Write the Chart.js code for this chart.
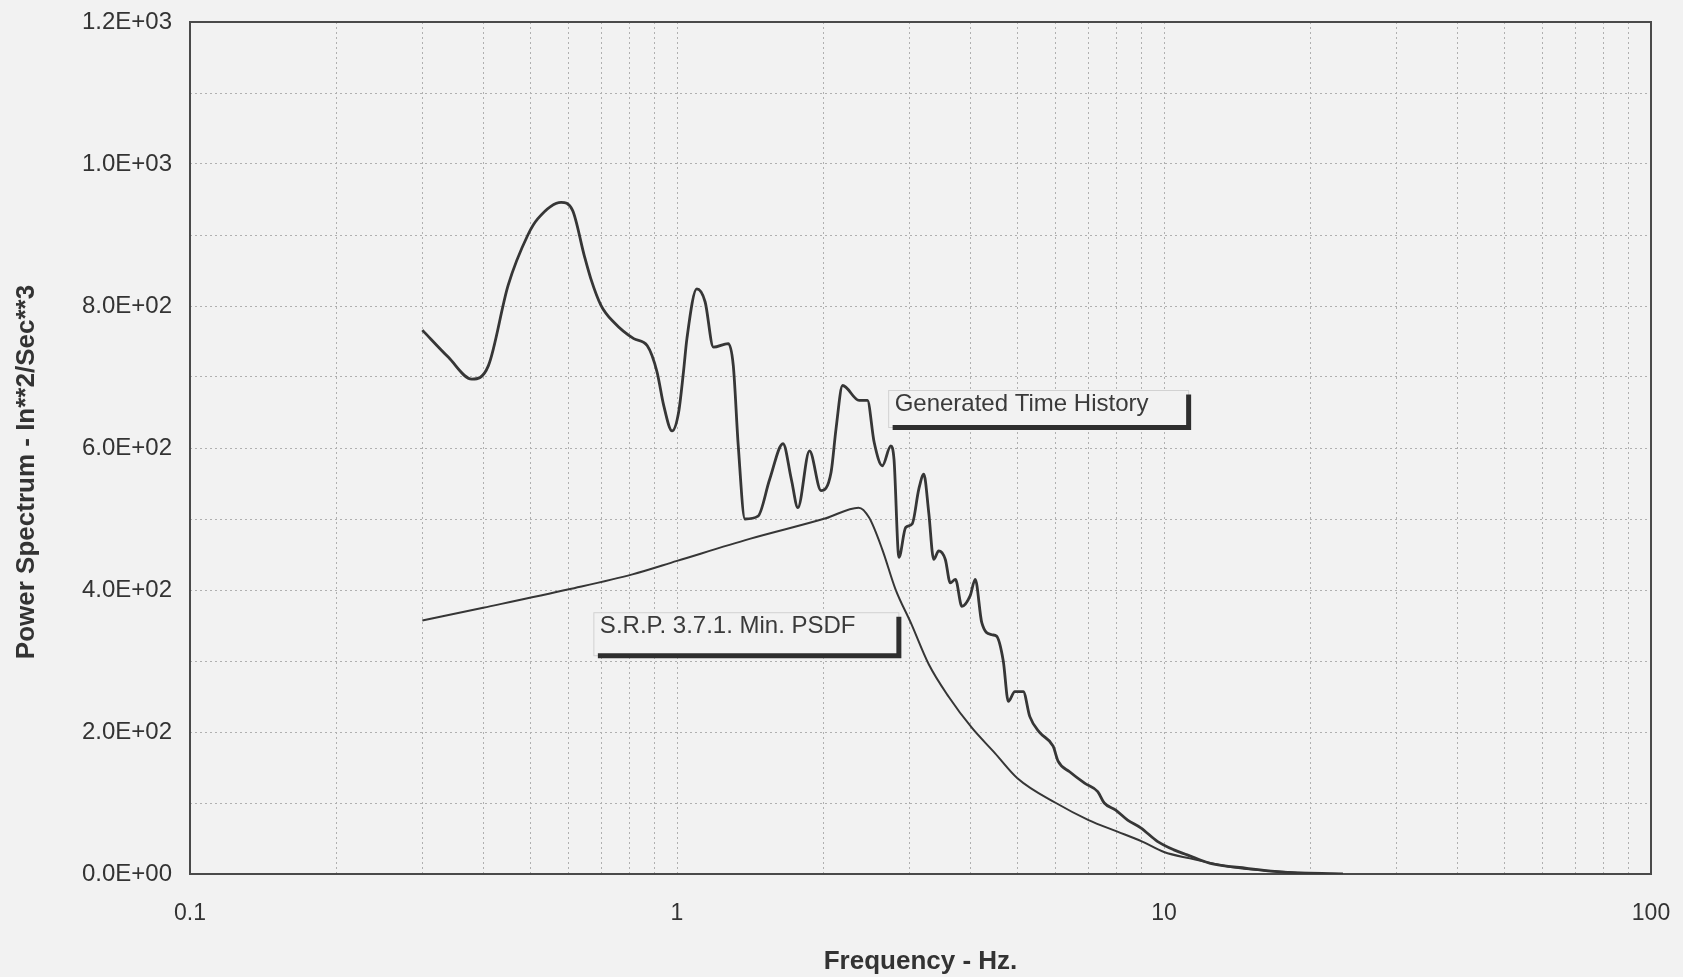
<!DOCTYPE html>
<html>
<head>
<meta charset="utf-8">
<title>Power Spectrum</title>
<script src="https://cdn.jsdelivr.net/npm/chart.js@4.4.1/dist/chart.umd.min.js"></script>
<style>
  html, body { margin: 0; padding: 0; background: #f2f2f2; overflow: hidden; }
  canvas { display: block; }
</style>
</head>
<body>
<canvas id="psdChart" width="1683" height="977"></canvas>
<script>
// generated time history (Hz / in^2/s^3)
const genFreq = [0.30, 0.339, 0.379, 0.41, 0.45, 0.494, 0.518, 0.578, 0.61, 0.645, 0.665, 0.698, 0.742, 0.815, 0.869,
  0.91, 0.939, 0.977, 1.0075, 1.031, 1.048, 1.098, 1.142, 1.188, 1.274, 1.305, 1.336, 1.379, 1.467, 1.55, 1.651,
  1.717, 1.771, 1.871, 1.976, 2.072, 2.121, 2.188, 2.366, 2.46, 2.54, 2.64, 2.748, 2.79, 2.856, 2.948, 3.04,
  3.137, 3.212, 3.288, 3.366, 3.446, 3.556, 3.64, 3.73, 3.846, 4.0, 4.096, 4.225, 4.43, 4.53, 4.677, 4.79,
  4.94, 5.14, 5.30, 5.56, 5.92, 6.06, 6.40, 6.87, 7.31, 7.54, 7.96, 8.42, 8.96, 9.69, 10.48, 11.16, 12.45,
  14.8, 17.3, 23.3];
const genValue = [766, 728, 697, 716, 829, 900, 923, 946, 935, 871, 839, 801, 777, 754, 744,
  707, 660, 624, 650, 707, 754, 824, 806, 742, 747, 716, 603, 500, 504, 556, 606,
  556, 516, 596, 540, 566, 627, 688, 667, 667, 608, 575, 603, 584, 446, 488, 493,
  542, 563, 509, 443, 455, 443, 410, 415, 377, 392, 415, 354, 337, 335, 300, 243,
  257, 257, 222, 199, 180, 159, 144, 128, 116, 100, 90, 76, 65, 46, 34, 27, 15,
  8, 3, 0];

// S.R.P. 3.7.1 minimum PSDF
const psdfFreq = [0.30, 0.40, 0.60, 0.81, 1.0, 1.41, 2.02, 2.36, 2.48, 2.64, 2.81, 3.02, 3.29, 3.61, 4.03, 4.50,
  5.0, 6.0, 7.0, 8.0, 9.0, 10.0, 11.3, 13.7, 16.0, 20.0, 23.3];
const psdfValue = [357, 375, 401, 422, 441, 472, 501, 516, 502, 457, 401, 354, 295, 250, 206, 170,
  135, 100, 76, 60, 46, 31, 22, 10, 5, 1, 0];

const xLabelValues = [0.1, 1, 10, 100];
const xLabels = ['0.1', '1', '10', '100'];
const yLabels = ['0.0E+00', '2.0E+02', '4.0E+02', '6.0E+02', '8.0E+02', '1.0E+03', '1.2E+03'];

const noteText = ['Generated Time History', 'S.R.P. 3.7.1. Min. PSDF'];
const noteFreq = [2.72, 0.675];
const noteValue = [681, 368];

const FONT = "'Liberation Sans', Arial, sans-serif";
const INK = '#333333';
const BG = '#f2f2f2';

function pts(xs, ys) {
  return xs.map((x, i) => ({ x: x, y: ys[i] }));
}

// grid at 1..9 per decade
const xGrid = [];
[0.1, 1, 10].forEach(d => {
  for (let k = 1; k < 10; k++) xGrid.push(+(k * d).toFixed(3));
});
xGrid.push(100);

// tick padding would otherwise push the plot area in
function noEdgePadding(s) {
  s.paddingTop = 0;
  s.paddingBottom = 0;
  s.paddingLeft = 0;
  s.paddingRight = 0;
}

const extras = {
  id: 'extras',
  beforeDraw(chart) {
    const ctx = chart.ctx;
    ctx.save();
    ctx.fillStyle = BG;
    ctx.fillRect(0, 0, chart.width, chart.height);
    ctx.restore();
  },
  beforeDatasetsDraw(chart) {
    const { ctx, chartArea: a } = chart;
    ctx.save();
    ctx.strokeStyle = '#4a4a4a';
    ctx.lineWidth = 2;
    ctx.strokeRect(a.left, a.top, a.right - a.left, a.bottom - a.top);
    ctx.restore();
  },
  afterDatasetsDraw(chart) {
    const ctx = chart.ctx;
    const xs = chart.scales.x, ys = chart.scales.y;
    const sizes = [[300, 37], [305, 43]];
    ctx.save();
    ctx.font = '24px ' + FONT;
    noteText.forEach((t, i) => {
      const l = xs.getPixelForValue(noteFreq[i]);
      const tp = ys.getPixelForValue(noteValue[i]);
      const w = sizes[i][0], h = sizes[i][1];
      ctx.fillStyle = BG;
      ctx.fillRect(l, tp, w, h);
      ctx.strokeStyle = '#d2d2d2';
      ctx.lineWidth = 1;
      ctx.strokeRect(l, tp, w, h);
      ctx.fillStyle = '#3a3a3a';
      ctx.textBaseline = 'middle';
      ctx.textAlign = 'left';
      ctx.fillText(t, l + 6, tp + 14);
      ctx.strokeStyle = '#2e2e2e';
      ctx.lineWidth = 5;
      ctx.beginPath();
      ctx.moveTo(l + 4, tp + h);
      ctx.lineTo(l + w, tp + h);
      ctx.lineTo(l + w, tp + 4);
      ctx.stroke();
    });
    ctx.restore();
  },
  afterDraw(chart) {
    const ctx = chart.ctx;
    ctx.save();
    ctx.translate(27, 472);
    ctx.rotate(-Math.PI / 2);
    ctx.font = 'bold 26px ' + FONT;
    ctx.fillStyle = INK;
    ctx.textAlign = 'center';
    ctx.textBaseline = 'middle';
    ctx.fillText('Power Spectrum - In**2/Sec**3', 0, 0);
    ctx.restore();
  }
};

const lineStyle = {
  borderColor: '#363636',
  pointRadius: 0,
  fill: false,
  cubicInterpolationMode: 'monotone'
};

new Chart(document.getElementById('psdChart'), {
  type: 'line',
  data: {
    datasets: [
      Object.assign({ label: 'Generated Time History', data: pts(genFreq, genValue), borderWidth: 2.8 }, lineStyle),
      Object.assign({ label: 'S.R.P. 3.7.1. Min. PSDF', data: pts(psdfFreq, psdfValue), borderWidth: 2 }, lineStyle)
    ]
  },
  options: {
    responsive: false,
    maintainAspectRatio: false,
    animation: false,
    devicePixelRatio: 1,
    layout: { padding: { left: 0, top: 22, right: 32, bottom: 0 } },
    plugins: {
      legend: { display: false },
      tooltip: { enabled: false }
    },
    scales: {
      x: {
        type: 'logarithmic',
        min: 0.1,
        max: 100,
        afterBuildTicks: s => { s.ticks = xGrid.map(v => ({ value: v })); },
        afterFit: s => { s.height = 103; noEdgePadding(s); },
        grid: { color: '#b0b0b0', lineWidth: 1, drawTicks: false, borderDash: [2, 3] },
        border: { display: false, dash: [2, 3] },
        ticks: {
          autoSkip: false,
          maxRotation: 0,
          padding: 26,
          color: INK,
          font: { family: FONT, size: 23 },
          callback: v => {
            const i = xLabelValues.indexOf(v);
            return i >= 0 ? xLabels[i] : '';
          }
        },
        title: {
          display: true,
          text: 'Frequency - Hz.',
          color: INK,
          font: { family: FONT, size: 26, weight: 'bold' },
          padding: { top: 0, bottom: 0 }
        }
      },
      y: {
        min: 0,
        max: 1200,
        afterFit: s => { s.width = 190; noEdgePadding(s); },
        grid: { color: '#b0b0b0', lineWidth: 1, drawTicks: false, borderDash: [2, 3] },
        border: { display: false, dash: [2, 3] },
        ticks: {
          stepSize: 100,
          autoSkip: false,
          padding: 18,
          color: INK,
          font: { family: FONT, size: 24 },
          callback: v => (v % 200 === 0 ? yLabels[v / 200] : '')
        }
      }
    }
  },
  plugins: [extras]
});
</script>
</body>
</html>
